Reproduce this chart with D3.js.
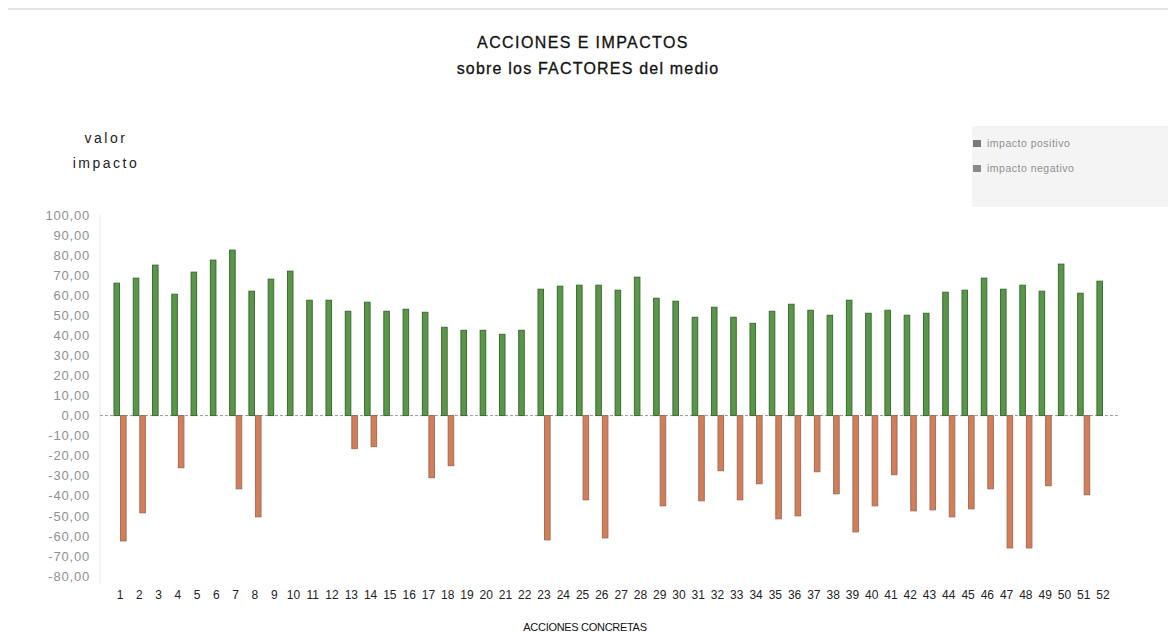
<!DOCTYPE html>
<html lang="es">
<head>
<meta charset="utf-8">
<title>Acciones e impactos</title>
<script src="https://d3js.org/d3.v7.min.js"></script>
<style>
  body { margin: 0; background: #fff; }
  text { font-family: "Liberation Sans", Arial, sans-serif; }
</style>
</head>
<body>
<script>
// acciones 1..52
var acciones = d3.range(1, 53).map(String);

// valor impacto positivo (verde)
var positivo = [66, 68.5, 75, 60.5, 71.5, 77.5, 82.5, 62, 68, 72,
                57.5, 57.5, 52, 56.5, 52, 53, 51.5, 44, 42.5, 42.5,
                40.5, 42.5, 63, 64.5, 65, 65, 62.5, 69, 58.5, 57,
                49, 54, 49, 46, 52, 55.5, 52.5, 50, 57.5, 51,
                52.5, 50, 51, 61.5, 62.5, 68.5, 63, 65, 62, 75.5,
                61, 67];

// valor impacto negativo (naranja), 0 = sin barra
var negativo = [-62.5, -48.5, 0, -26, 0, 0, -36.5, -50.5, 0, 0,
                0, 0, -16.5, -15.5, 0, 0, -31, -25, 0, 0,
                0, 0, -62, 0, -42, -61, 0, 0, -45, 0,
                -42.5, -27.5, -42, -34, -51.5, -50, -28, -39, -58, -45,
                -29.5, -47.5, -47, -50.5, -46.5, -36.5, -66, -66, -35, 0,
                -39.5, 0];

var yTicks = d3.range(-80, 101, 10);
var series = ["impacto positivo", "impacto negativo"];
var colores = {"impacto positivo": "#5a964a", "impacto negativo": "#d27e58"};
var bordes = {"impacto positivo": "#3b6c32", "impacto negativo": "#a06e5a"};

var width = 1168, height = 633;

var svg = d3.select("body").append("svg")
    .attr("width", width)
    .attr("height", height);

// linea gris del escaneo arriba
svg.append("line")
    .attr("x1", 8).attr("x2", width).attr("y1", 9).attr("y2", 9)
    .attr("stroke", "#e4e4e4").attr("stroke-width", 2);

// titulo
svg.append("text")
    .attr("x", 583).attr("y", 48)
    .attr("text-anchor", "middle")
    .attr("font-size", "16px")
    .attr("letter-spacing", "1.4px")
    .attr("fill", "#111")
    .attr("stroke", "#111").attr("stroke-width", 0.3)
    .text("ACCIONES E IMPACTOS");
svg.append("text")
    .attr("x", 588).attr("y", 74)
    .attr("text-anchor", "middle")
    .attr("font-size", "16px")
    .attr("letter-spacing", "1.2px")
    .attr("fill", "#111")
    .attr("stroke", "#111").attr("stroke-width", 0.3)
    .text("sobre los FACTORES del medio");

// titulo eje y
svg.append("text")
    .attr("x", 106).attr("y", 143)
    .attr("text-anchor", "middle")
    .attr("font-size", "14px")
    .attr("letter-spacing", "2.5px")
    .attr("fill", "#222")
    .text("valor");
svg.append("text")
    .attr("x", 106).attr("y", 168)
    .attr("text-anchor", "middle")
    .attr("font-size", "14px")
    .attr("letter-spacing", "2.5px")
    .attr("fill", "#222")
    .text("impacto");

// escalas
var x0 = d3.scaleBand()
    .domain(acciones)
    .range([110.4, 1112.6])
    .paddingInner(0.32)
    .paddingOuter(0.16);

var x1 = d3.scaleBand()
    .domain(series)
    .range([0, x0.bandwidth()]);

var y = d3.scaleLinear()
    .domain([-80, 100])
    .range([576, 215]);

// borde izquierdo del area
svg.append("line")
    .attr("x1", 100).attr("x2", 100)
    .attr("y1", y(100)).attr("y2", y(-80) + 8)
    .attr("stroke", "#e8e8e8");

// eje y
var fmt = function(d) { return d3.format(".2f")(d).replace(".", ",").replace("−", "-"); };
var yAxis = svg.append("g")
    .attr("transform", "translate(90,0)")
    .call(d3.axisLeft(y).tickValues(yTicks).tickSize(0).tickPadding(0).tickFormat(fmt));
yAxis.select(".domain").remove();
yAxis.selectAll("text")
    .attr("font-size", "13px")
    .attr("letter-spacing", "0.8px")
    .attr("fill", "#909090")
    .style("font-family", "'Liberation Sans', Arial, sans-serif");

// linea del cero
svg.append("line")
    .attr("x1", 100).attr("x2", 1118)
    .attr("y1", y(0)).attr("y2", y(0))
    .attr("stroke", "#9a9a9a").attr("stroke-width", 1)
    .attr("stroke-dasharray", "3,2");

// barras
var datos = acciones.map(function(a, i) {
    return {accion: a, valores: [
        {serie: "impacto positivo", v: positivo[i]},
        {serie: "impacto negativo", v: negativo[i]}
    ]};
});

var grupos = svg.selectAll("g.accion")
    .data(datos)
    .enter().append("g")
    .attr("class", "accion")
    .attr("transform", function(d) { return "translate(" + x0(d.accion) + ",0)"; });

grupos.selectAll("rect")
    .data(function(d) { return d.valores.filter(function(e) { return e.v !== 0; }); })
    .enter().append("rect")
    .attr("x", function(d) { return x1(d.serie) + 0.5; })
    .attr("width", x1.bandwidth() - 1)
    .attr("y", function(d) { return y(Math.max(0, d.v)); })
    .attr("height", function(d) { return Math.abs(y(d.v) - y(0)); })
    .attr("fill", function(d) { return colores[d.serie]; })
    .attr("stroke", function(d) { return bordes[d.serie]; })
    .attr("stroke-width", 1);

// eje x
var xAxis = svg.append("g")
    .attr("transform", "translate(0,590)")
    .call(d3.axisBottom(x0).tickSize(0).tickPadding(0));
xAxis.select(".domain").remove();
xAxis.selectAll("text")
    .attr("font-size", "12px")
    .attr("fill", "#222")
    .style("font-family", "'Liberation Sans', Arial, sans-serif");

svg.append("text")
    .attr("x", 585).attr("y", 631)
    .attr("text-anchor", "middle")
    .attr("font-size", "11px")
    .attr("letter-spacing", "-0.3px")
    .attr("fill", "#111")
    .text("ACCIONES CONCRETAS");

// leyenda
svg.append("rect")
    .attr("x", 972).attr("y", 126)
    .attr("width", width - 972).attr("height", 81)
    .attr("fill", "#f4f4f4");

var leyenda = svg.selectAll("g.leyenda")
    .data(series)
    .enter().append("g")
    .attr("class", "leyenda")
    .attr("transform", function(d, i) { return "translate(973," + (140 + i * 25) + ")"; });
leyenda.append("rect")
    .attr("width", 8).attr("height", 7)
    .attr("fill", function(d) { return d === "impacto positivo" ? "#7a7a7a" : "#8a8a8a"; });
leyenda.append("text")
    .attr("x", 14).attr("y", 7)
    .attr("font-size", "10.5px")
    .attr("letter-spacing", "0.5px")
    .attr("fill", "#8f8f8f")
    .text(function(d) { return d; });
</script>
</body>
</html>
